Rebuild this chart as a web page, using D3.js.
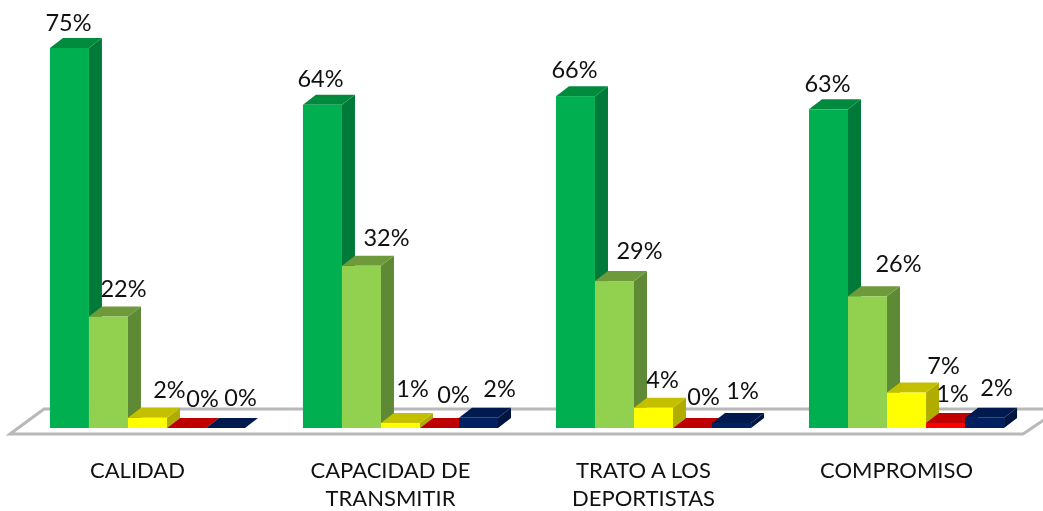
<!DOCTYPE html>
<html>
<head>
<meta charset="utf-8">
<script src="https://cdn.jsdelivr.net/npm/d3@7"></script>
<style>
  html, body { margin: 0; padding: 0; background: #fff; }
  svg { display: block; filter: blur(0.45px); }
  text { font-family: Lato, "Open Sans", sans-serif; fill: #111; }
</style>
</head>
<body>
<div id="chart"></div>
<script>
// values (bar heights suggest the labels are rounded)
const categories = ["CALIDAD", "CAPACIDAD DE TRANSMITIR", "TRATO A LOS DEPORTISTAS", "COMPROMISO"];
const series = ["s1", "s2", "s3", "s4", "s5"];
const s1 = [75, 63.8, 65.5, 62.9];
const s2 = [22, 32, 29, 26];
const s3 = [2, 1, 4, 7];
const s4 = [0, 0, 0, 1];
const s5 = [0, 2, 1, 2];
const seriesValues = [s1, s2, s3, s4, s5];

const width = 1043, height = 511;
const depthX = 13, depthY = 10;
const baseY = 428;

// front, top, side
const colors = [
  ["#00b050", "#008a3e", "#007a38"],
  ["#92d050", "#6f9a3c", "#5f8a35"],
  ["#ffff00", "#c4c000", "#b0ad00"],
  ["#ff0000", "#c00000", "#a00000"],
  ["#002060", "#001a50", "#001440"]
];

// label offset from the top centre of each bar, [series][category]
const labelDx = [
  [-1, -2, -1, -1],
  [15, 25, 25, 31],
  [22, 12, 9, 37],
  [16, 14, 11, 7],
  [15, 21, 11, 12]
];
const labelDy = [
  [-25, -26, -26, -26],
  [-28, -28, -30, -32],
  [-28, -34, -28, -27],
  [-29, -33, -31, -29],
  [-30, -29, -32, -30]
];

const svg = d3.select("#chart").append("svg")
  .attr("width", width)
  .attr("height", height);

const x0 = d3.scaleBand()
  .domain(categories)
  .range([-8, 1062])
  .paddingInner(0.229)
  .paddingOuter(0.229);

const x1 = d3.scaleBand()
  .domain(series)
  .range([0, x0.bandwidth()]);

const y = d3.scaleLinear()
  .domain([0, 75])
  .range([baseY, 48]);

// floor
svg.append("polygon")
  .attr("points", [[10, 434], [44, 409], [1060, 409], [1023, 434]].join(" "))
  .attr("fill", "#fff")
  .attr("stroke", "#b8b8b8")
  .attr("stroke-width", 3);

const groups = svg.selectAll(".group")
  .data(categories)
  .enter().append("g")
  .attr("class", "group")
  .attr("transform", function(d) { return "translate(" + x0(d) + ",0)"; });

groups.each(function(cat, c) {
  const g = d3.select(this);
  series.forEach(function(s, i) {
    const v = seriesValues[i][c];
    const left = x1(s), right = left + x1.bandwidth(), top = y(v);

    g.append("polygon")
      .attr("fill", colors[i][2])
      .attr("points", [[right, baseY], [right + depthX, baseY - depthY], [right + depthX, top - depthY], [right, top]].join(" "));
    g.append("polygon")
      .attr("fill", colors[i][1])
      .attr("points", [[left, top], [left + depthX, top - depthY], [right + depthX, top - depthY], [right, top]].join(" "));
    g.append("rect")
      .attr("x", left)
      .attr("y", top)
      .attr("width", x1.bandwidth())
      .attr("height", baseY - top)
      .attr("fill", colors[i][0]);
  });
});

// labels go on top of every bar
groups.each(function(cat, c) {
  const g = d3.select(this);
  series.forEach(function(s, i) {
    const v = seriesValues[i][c];
    g.append("text")
      .attr("x", x1(s) + x1.bandwidth() / 2 + labelDx[i][c])
      .attr("y", y(v) + labelDy[i][c])
      .attr("dy", "0.35em")
      .attr("text-anchor", "middle")
      .style("font-size", "23.5px")
      .text(Math.round(v) + "%");
  });
});

const xAxis = svg.append("g")
  .attr("transform", "translate(-10,462)")
  .call(d3.axisBottom(x0).tickSize(0).tickPadding(0));
xAxis.select(".domain").remove();
xAxis.selectAll("text")
  .style("font-size", "22px")
  .style("font-family", "Lato, 'Open Sans', sans-serif")
  .style("fill", "#111")
  .attr("y", 0)
  .attr("dy", "0.72em")
  .call(wrap, 185);

function wrap(sel, w) {
  sel.each(function() {
    const text = d3.select(this);
    const words = text.text().split(" ");
    text.text(null);
    let line = [];
    let tspan = text.append("tspan").attr("x", 0).attr("y", 0).attr("dy", "0.72em");
    let n = 0;
    words.forEach(function(word) {
      line.push(word);
      tspan.text(line.join(" "));
      if (tspan.node().getComputedTextLength() > w && line.length > 1) {
        line.pop();
        tspan.text(line.join(" "));
        line = [word];
        n++;
        tspan = text.append("tspan").attr("x", 0).attr("y", n * 28).attr("dy", "0.72em").text(word);
      }
    });
  });
}
</script>
</body>
</html>
